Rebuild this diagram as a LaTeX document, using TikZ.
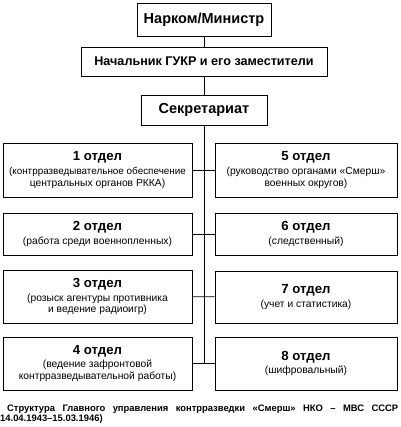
\documentclass[tikz,border=0pt]{standalone}
\usepackage{fontspec}
\setmainfont{Liberation Sans}
\begin{document}
\begin{tikzpicture}[x=1pt,y=-1pt,
  box/.style={draw, line width=0.9pt, inner sep=0pt, align=center,
    font=\fontsize{10.3}{11.8}\selectfont},
  lbox/.style={box, minimum width=189pt},
  rbox/.style={box, minimum width=182pt},
  topbox/.style={box, font=\fontsize{14.5}{16}\selectfont\bfseries},
  conn/.style={line width=0.8pt}]
\useasboundingbox (0,0) rectangle (400,427);
\newcommand{\hdx}[1]{{\fontsize{13.2}{15}\selectfont\bfseries #1}}
% top chain
\node[topbox, minimum width=134pt, minimum height=33pt] (nar) at (204,19.5) {Нарком/Министр};
\node[topbox, minimum width=246pt, minimum height=29pt, font=\fontsize{12.6}{14}\selectfont\bfseries] (gukr) at (204,61.5) {Начальник ГУКР и его заместители};
\node[topbox, minimum width=126pt, minimum height=30pt] (sec) at (204,110) {Секретариат};
% left column
\node[lbox, minimum height=54pt] (b1) at (97.5,170) {\hdx{1 отдел}\\[2pt]{\fontsize{9.9}{11.8}\selectfont(контрразведывательное обеспечение}\\центральных органов РККА)};
\node[lbox, minimum height=42pt] (b2) at (97.5,234) {\hdx{2 отдел}\\[2pt](работа среди военнопленных)};
\node[lbox, minimum height=53pt] (b3) at (97.5,296.5) {\hdx{3 отдел}\\[2pt](розыск агентуры противника\\и ведение радиоигр)};
\node[lbox, minimum height=53pt] (b4) at (97.5,363.5) {\hdx{4 отдел}\\[2pt](ведение зафронтовой\\контрразведывательной работы)};
% right column
\node[rbox, minimum height=54pt] (b5) at (306,170) {\hdx{5 отдел}\\[2pt](руководство органами «Смерш»\\военных округов)};
\node[rbox, minimum height=42pt] (b6) at (306,234) {\hdx{6 отдел}\\[2pt](следственный)};
\node[rbox, minimum height=52pt] (b7) at (306,297) {\hdx{7 отдел}\\[2pt](учет и статистика)};
\node[rbox, minimum height=53pt] (b8) at (306,363.5) {\hdx{8 отдел}\\[2pt](шифровальный)};
% connectors
\coordinate (tend) at (204,364);
\draw[conn] (nar) -- (gukr);
\draw[conn] (gukr) -- (sec);
\draw[conn] (sec.south) -- (tend);
\draw[conn] (b1) -- (b5);
\draw[conn] (b2) -- (b6);
\draw[conn] (b3) -- (b7);
\draw[conn] (b4) -- (b8);
% caption
\node[anchor=north west, inner sep=0pt, text width=398pt, align=justify,
  font=\fontsize{9.4}{9.8}\selectfont\bfseries] (cap) at (0,405)
  {\hspace*{7pt}Структура Главного управления контрразведки «Смерш» НКО – МВС СССР\linebreak 14.04.1943–15.03.1946)};
\end{tikzpicture}
\end{document}
